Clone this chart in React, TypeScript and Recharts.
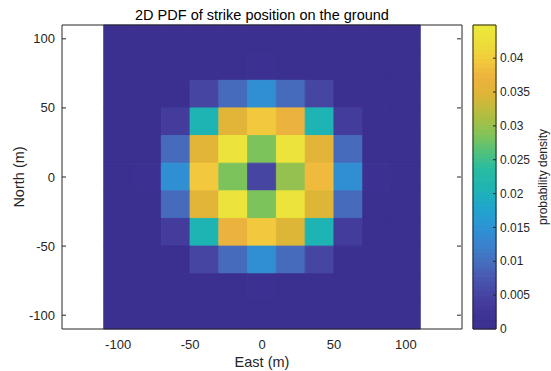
import React from 'react';
import { ComposedChart, XAxis, YAxis, ReferenceArea } from 'recharts';

const FONT = '"Liberation Sans", Arial, Helvetica, sans-serif';
const INK = '#262626';

// Cell centres (m)
const EAST = [-100, -80, -60, -40, -20, 0, 20, 40, 60, 80, 100];
const NORTH = [100, 80, 60, 40, 20, 0, -20, -40, -60, -80, -100];
const CELL = 20;

// Probability density per cell, one row per north position (west -> east)
const rowN100 = [0, 0, 0, 0, 0, 0, 0, 0, 0, 0, 0];
const rowN80 = [0, 0, 0, 0, 0, 0.0008, 0, 0, 0, 0, 0];
const rowN60 = [0, 0, 0, 0.005, 0.0095, 0.0145, 0.0095, 0.005, 0, 0, 0];
const rowN40 = [0, 0, 0.004, 0.0205, 0.0355, 0.0395, 0.0368, 0.0205, 0.004, 0, 0];
const rowN20 = [0, 0, 0.0095, 0.0355, 0.0435, 0.0285, 0.0435, 0.0355, 0.0095, 0.0005, 0];
const rowN0 = [0, 0.0008, 0.0145, 0.0395, 0.0285, 0.005, 0.0295, 0.038, 0.0145, 0.0008, 0];
const rowS20 = [0, 0, 0.0095, 0.0355, 0.0435, 0.0285, 0.0435, 0.0345, 0.0095, 0, 0];
const rowS40 = [0, 0, 0.004, 0.0205, 0.037, 0.0395, 0.0345, 0.0205, 0.004, 0, 0];
const rowS60 = [0, 0, 0, 0.005, 0.0095, 0.0145, 0.0095, 0.005, 0, 0, 0];
const rowS80 = [0, 0, 0, 0, 0, 0.0008, 0, 0, 0, 0, 0];
const rowS100 = [0, 0, 0, 0, 0, 0, 0, 0, 0, 0, 0];
const DENSITY = [rowN100, rowN80, rowN60, rowN40, rowN20, rowN0, rowS20, rowS40, rowS60, rowS80, rowS100];

const X_TICKS = [-100, -50, 0, 50, 100];
const Y_TICKS = [-100, -50, 0, 50, 100];
const CB_TICKS = [0, 0.005, 0.01, 0.015, 0.02, 0.025, 0.03, 0.035, 0.04];
const C_MIN = 0;
const C_MAX = 0.0449;

// parula-like colour ramp: [fraction, r, g, b]
const CMAP_STOPS: number[][] = [
  [0.0, 59, 46, 143],
  [0.05, 62, 52, 150],
  [0.11, 70, 66, 160],
  [0.17, 72, 88, 178],
  [0.22, 70, 110, 190],
  [0.28, 58, 130, 203],
  [0.33, 46, 146, 212],
  [0.4, 33, 165, 205],
  [0.46, 30, 180, 180],
  [0.53, 40, 188, 160],
  [0.58, 80, 192, 125],
  [0.64, 130, 195, 88],
  [0.7, 175, 190, 65],
  [0.77, 220, 182, 55],
  [0.83, 238, 178, 62],
  [0.88, 242, 200, 60],
  [0.94, 236, 222, 58],
  [1.0, 236, 232, 60],
];
const N_COLORS = 64;

const ramp = (t: number) => {
  const s = CMAP_STOPS;
  let k = 0;
  while (k < s.length - 2 && t > s[k + 1][0]) k++;
  const a = s[k];
  const b = s[k + 1];
  const f = Math.max(0, Math.min(1, (t - a[0]) / (b[0] - a[0])));
  const ch = (i: number) => Math.round(a[i] + (b[i] - a[i]) * f);
  return `rgb(${ch(1)},${ch(2)},${ch(3)})`;
};

// discrete 64-entry colour table, as a colormap would be
const COLORMAP = Array.from({ length: N_COLORS }, (_, i) => ramp((i + 0.5) / N_COLORS));

const colorOf = (v: number) => {
  const t = (v - C_MIN) / (C_MAX - C_MIN);
  const i = Math.max(0, Math.min(N_COLORS - 1, Math.floor(t * N_COLORS)));
  return COLORMAP[i];
};

const cells = NORTH.flatMap((north, r) =>
  EAST.map((east, c) => ({ east, north, density: DENSITY[r][c] }))
);

const LeftTick = (props: any) => {
  const { x, y, payload } = props;
  return (
    <g>
      <line x1={x + 7} x2={x + 11} y1={y} y2={y} stroke={INK} strokeWidth={1} />
      <text x={x} y={y} dy="0.35em" textAnchor="end" fontSize={13} fontFamily={FONT} fill={INK}>
        {payload.value}
      </text>
    </g>
  );
};

const RightTick = (props: any) => {
  const { x, y } = props;
  return <line x1={x - 5} x2={x - 1} y1={y} y2={y} stroke={INK} strokeWidth={1} />;
};

const BottomTick = (props: any) => {
  const { x, y, payload } = props;
  return (
    <text x={x} y={y} dy="0.71em" textAnchor="middle" fontSize={13} fontFamily={FONT} fill={INK}>
      {payload.value}
    </text>
  );
};

const ColorbarTick = (props: any) => {
  const { x, y, payload } = props;
  return (
    <g>
      {payload.value > 0 && <line x1={x - 7} x2={x - 4} y1={y} y2={y} stroke={INK} strokeWidth={1} />}
      <text x={x} y={y} dy="0.35em" textAnchor="start" fontSize={12} fontFamily={FONT} fill={INK}>
        {payload.value}
      </text>
    </g>
  );
};

const bands = COLORMAP.map((fill, i) => ({
  pos: 0.5,
  lo: C_MIN + ((C_MAX - C_MIN) * i) / N_COLORS,
  hi: C_MIN + ((C_MAX - C_MIN) * (i + 1)) / N_COLORS,
  fill,
}));

export default function App() {
  return (
    <div style={{ position: 'absolute', left: 0, top: 0, width: 551, height: 371, background: '#fff' }}>
      <div style={{ position: 'absolute', left: 0, top: 0 }}>
        <ComposedChart width={470} height={371} data={cells} margin={{ top: 24, right: 7, bottom: 12, left: 0 }}>
          <XAxis
            type="number"
            dataKey="east"
            domain={[-139, 139]}
            ticks={X_TICKS}
            allowDataOverflow
            height={30}
            tickSize={0}
            tickMargin={11}
            tick={<BottomTick />}
            tickLine={false}
            axisLine={{ stroke: INK, strokeWidth: 1 }}
            label={{
              content: (p: any) => (
                <text
                  x={p.viewBox.x + p.viewBox.width / 2}
                  y={367}
                  textAnchor="middle"
                  fontSize={14.5}
                  fontFamily={FONT}
                  fill={INK}
                >
                  East (m)
                </text>
              ),
            }}
          />
          <XAxis
            xAxisId="top"
            orientation="top"
            type="number"
            domain={[-139, 139]}
            allowDataOverflow
            height={1}
            tick={false}
            tickLine={false}
            axisLine={{ stroke: INK, strokeWidth: 1 }}
            label={{
              content: () => (
                <text x={262} y={20} textAnchor="middle" fontSize={14.5} fontFamily={FONT} fill="#000">
                  2D PDF of strike position on the ground
                </text>
              ),
            }}
          />
          <YAxis
            type="number"
            dataKey="north"
            domain={[-110, 110]}
            ticks={Y_TICKS}
            allowDataOverflow
            width={62}
            tickSize={0}
            tickMargin={7}
            tick={<LeftTick />}
            tickLine={false}
            axisLine={{ stroke: INK, strokeWidth: 1 }}
            label={{
              content: () => (
                <text
                  x={23.5}
                  y={177}
                  transform="rotate(-90, 23.5, 177)"
                  textAnchor="middle"
                  fontSize={14.5}
                  fontFamily={FONT}
                  fill={INK}
                >
                  North (m)
                </text>
              ),
            }}
          />
          <YAxis
            yAxisId="right"
            orientation="right"
            type="number"
            domain={[-110, 110]}
            allowDataOverflow
            ticks={Y_TICKS}
            width={1}
            tickSize={0}
            tickMargin={0}
            tick={<RightTick />}
            tickLine={false}
            axisLine={{ stroke: INK, strokeWidth: 1 }}
          />
          {cells.map((d) => {
            const fill = colorOf(d.density);
            return (
              <ReferenceArea
                key={`${d.east}_${d.north}`}
                x1={d.east - CELL / 2}
                x2={d.east + CELL / 2}
                y1={d.north - CELL / 2}
                y2={d.north + CELL / 2}
                fill={fill}
                fillOpacity={1}
                stroke={fill}
                strokeWidth={0.9}
                ifOverflow="visible"
              />
            );
          })}
        </ComposedChart>
      </div>
      <div style={{ position: 'absolute', left: 0, top: 0 }}>
        <ComposedChart width={551} height={371} data={bands} margin={{ top: 25, right: 5, bottom: 42, left: 473 }}>
          <XAxis type="number" dataKey="pos" domain={[0, 1]} allowDataOverflow hide />
          <YAxis
            orientation="right"
            type="number"
            domain={[C_MIN, C_MAX]}
            ticks={CB_TICKS}
            allowDataOverflow
            width={50}
            tickSize={0}
            tickMargin={4}
            tick={<ColorbarTick />}
            tickLine={false}
            axisLine={false}
            label={{
              content: () => (
                <text
                  x={547}
                  y={177}
                  transform="rotate(-90, 547, 177)"
                  textAnchor="middle"
                  fontSize={12}
                  fontFamily={FONT}
                  fill={INK}
                >
                  probability density
                </text>
              ),
            }}
          />
          {bands.map((b, i) => (
            <ReferenceArea
              key={i}
              x1={0}
              x2={1}
              y1={b.lo}
              y2={b.hi}
              fill={b.fill}
              fillOpacity={1}
              stroke={b.fill}
              strokeWidth={1}
              ifOverflow="visible"
            />
          ))}
          <ReferenceArea x1={0} x2={1} y1={C_MIN} y2={C_MAX} fill="none" stroke={INK} strokeWidth={1} ifOverflow="visible" />
        </ComposedChart>
      </div>
    </div>
  );
}
